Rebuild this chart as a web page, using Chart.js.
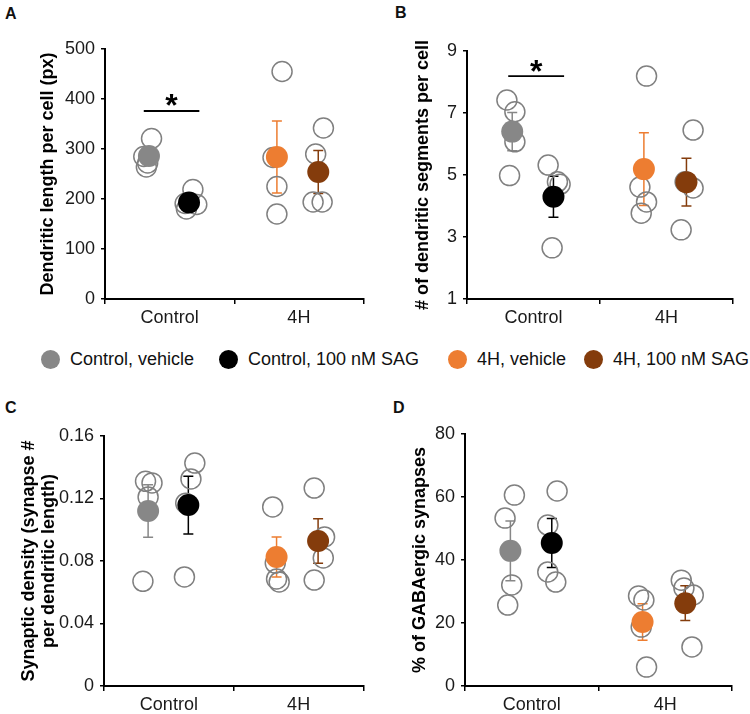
<!DOCTYPE html>
<html>
<head>
<meta charset="utf-8">
<script src="https://cdn.jsdelivr.net/npm/chart.js@4.4.0/dist/chart.umd.min.js"></script>
<style>
  body { margin: 0; background: #fff; }
  #fig { position: relative; width: 750px; height: 714px; font-family: Arial, "Liberation Sans", sans-serif; color: #111; }
  canvas { position: absolute; }
  .tag { position: absolute; font-weight: bold; font-size: 16px; line-height: 1; }
  .dot { position: absolute; width: 19px; height: 19px; border-radius: 50%; }
  .key { position: absolute; font-size: 18px; line-height: 18px; white-space: nowrap; }
</style>
</head>
<body>
<div id="fig">
  <div class="tag" style="left:5px;top:6px">A</div>
  <div class="tag" style="left:395px;top:5px">B</div>
  <div class="tag" style="left:5px;top:400px">C</div>
  <div class="tag" style="left:393px;top:400px">D</div>
  <canvas id="chartA" width="375" height="330" style="left:0;top:0"></canvas>
  <canvas id="chartB" width="375" height="330" style="left:375px;top:0"></canvas>
  <canvas id="chartC" width="375" height="344" style="left:0;top:370px"></canvas>
  <canvas id="chartD" width="375" height="344" style="left:375px;top:370px"></canvas>
</div>
<script>
const categories = ['Control', '4H'];
const groups = ['Control, vehicle', 'Control, 100 nM SAG', '4H, vehicle', '4H, 100 nM SAG'];

// A - dendritic length per cell (px)
const lengthCells = [[321, 285, 272, 264], [219, 191, 180, 189], [455, 283, 225, 170], [342, 290, 194, 194]];
const lengthJitter = [[-0.14, -0.2, -0.17, -0.18], [0.18, 0.12, 0.13, 0.21], [-0.13, -0.2, -0.17, -0.17], [0.19, 0.13, 0.11, 0.18]];
const lengthMean = [286, 193, 284, 254];
const lengthSem = [12, 9, 72, 43];
const lengthTicks = [0, 100, 200, 300, 400, 500];

// B - dendritic segments per cell
const segCells = [[7.42, 7.04, 6.07, 4.98], [5.32, 4.78, 4.70, 2.65], [8.19, 4.61, 4.13, 3.77], [6.45, 4.78, 4.58, 3.23]];
const segJitter = [[-0.2, -0.14, -0.14, -0.18], [0.11, 0.18, 0.2, 0.14], [-0.15, -0.2, -0.15, -0.19], [0.2, 0.14, 0.2, 0.11]];
const segMean = [6.40, 4.30, 5.19, 4.77];
const segSem = [0.62, 0.66, 1.17, 0.77];
const segTicks = [1, 3, 5, 7, 9];

// C - synaptic density
const densCells = [[0.131, 0.130, 0.121, 0.067], [0.1427, 0.1325, 0.117, 0.0698], [0.1146, 0.0787, 0.0685, 0.0666], [0.1267, 0.0954, 0.082, 0.0678]];
const densJitter = [[-0.18, -0.13, -0.16, -0.2], [0.2, 0.17, 0.13, 0.12], [-0.2, -0.18, -0.17, -0.15], [0.12, 0.2, 0.19, 0.12]];
const densMean = [0.112, 0.1158, 0.0826, 0.0928];
const densSem = [0.0168, 0.0185, 0.0128, 0.0142];
const densTicks = [0, 0.04, 0.08, 0.12, 0.16];

// D - % GABAergic synapses
const gabaCells = [[60.6, 53.3, 32.1, 25.7], [61.9, 51.1, 36.2, 33.0], [28.6, 27.3, 18.7, 6.0], [33.6, 31.1, 28.9, 12.4]];
const gabaJitter = [[-0.13, -0.2, -0.15, -0.18], [0.19, 0.12, 0.12, 0.18], [-0.2, -0.16, -0.18, -0.14], [0.12, 0.14, 0.21, 0.2]];
const gabaMean = [42.9, 45.4, 20.3, 26.3];
const gabaSem = [9.5, 7.8, 5.8, 5.5];
const gabaTicks = [0, 20, 40, 60, 80];

const colors = ['#878787', '#000000', '#ED7D31', '#843C0C'];
const meanShift = [-0.16, 0.15, -0.17, 0.15];

Chart.defaults.font.family = 'Arial, "Liberation Sans", sans-serif';
Chart.defaults.color = '#1a1a1a';

// legend row
const fig = document.getElementById('fig');
const keyX = [50, 228, 457, 593];
groups.forEach((g, i) => {
  const d = document.createElement('div');
  d.className = 'dot';
  d.style.left = (keyX[i] - 9.5) + 'px';
  d.style.top = '349.5px';
  d.style.background = colors[i];
  fig.appendChild(d);
  const t = document.createElement('div');
  t.className = 'key';
  t.textContent = g;
  t.style.left = (keyX[i] + 20) + 'px';
  t.style.top = '350px';
  fig.appendChild(t);
});

const errorBars = {
  id: 'errorBars',
  beforeDatasetsDraw(chart) {
    const ds = chart.data.datasets[0];
    const meta = chart.getDatasetMeta(0);
    const ys = chart.scales.y, ctx = chart.ctx;
    meta.data.forEach((pt, i) => {
      const m = ds.data[i].y, e = ds.sem[i];
      const top = ys.getPixelForValue(m + e), bot = ys.getPixelForValue(m - e);
      ctx.save();
      ctx.strokeStyle = colors[i];
      ctx.lineWidth = 1.5;
      ctx.beginPath();
      ctx.moveTo(pt.x, top); ctx.lineTo(pt.x, bot);
      ctx.moveTo(pt.x - 5, top); ctx.lineTo(pt.x + 5, top);
      ctx.moveTo(pt.x - 5, bot); ctx.lineTo(pt.x + 5, bot);
      ctx.stroke();
      ctx.restore();
    });
  }
};

const sigBar = {
  id: 'sigBar',
  afterDraw(chart, args, opts) {
    if (opts.y === undefined) return;
    const xs = chart.scales.x, ys = chart.scales.y, ctx = chart.ctx;
    const x1 = xs.getPixelForValue(opts.from), x2 = xs.getPixelForValue(opts.to);
    const y = ys.getPixelForValue(opts.y);
    ctx.save();
    ctx.strokeStyle = '#000';
    ctx.lineWidth = 1.8;
    ctx.beginPath(); ctx.moveTo(x1, y); ctx.lineTo(x2, y); ctx.stroke();
    ctx.fillStyle = '#000';
    ctx.font = 'bold 32px Arial, "Liberation Sans", sans-serif';
    ctx.textAlign = 'center';
    ctx.textBaseline = 'alphabetic';
    ctx.fillText('*', (x1 + x2) / 2, y + 5.4);
    ctx.restore();
  }
};

function buildPanel(id, cfg) {
  const cells = [];
  cfg.cells.forEach((arr, g) => arr.forEach((v, k) => {
    cells.push({x: Math.floor(g / 2) + cfg.jitter[g][k], y: v});
  }));
  const means = cfg.mean.map((v, g) => ({x: Math.floor(g / 2) + meanShift[g], y: v}));
  return new Chart(document.getElementById(id), {
    type: 'scatter',
    data: {
      datasets: [
        { label: 'mean', data: means, sem: cfg.sem, pointRadius: 11, pointHoverRadius: 11,
          pointBackgroundColor: colors, pointBorderColor: colors, pointBorderWidth: 0 },
        { label: 'cells', data: cells, pointRadius: 10, pointHoverRadius: 10,
          pointBackgroundColor: 'rgba(0,0,0,0)', pointBorderColor: '#808080', pointBorderWidth: 1.5 }
      ]
    },
    options: {
      responsive: false,
      animation: false,
      devicePixelRatio: 1,
      events: [],
      layout: { padding: { left: cfg.pl, right: cfg.pr, top: cfg.pt, bottom: 0 } },
      plugins: {
        legend: { display: false },
        tooltip: { enabled: false },
        sigBar: cfg.sig || {}
      },
      scales: {
        x: {
          type: 'linear', min: -0.5, max: 1.5,
          afterBuildTicks: s => { s.ticks = [-0.5, 0, 0.5, 1, 1.5].map(v => ({value: v})); },
          afterFit: s => { s.height = cfg.xh; },
          ticks: {
            autoSkip: false, maxRotation: 0, padding: 3, color: '#1a1a1a', font: { size: 18 },
            callback: v => v === 0 ? categories[0] : (v === 1 ? categories[1] : '')
          },
          grid: {
            drawOnChartArea: false, tickLength: 5, lineWidth: 1.5,
            color: c => (c.tick && Number.isInteger(c.tick.value)) ? 'rgba(0,0,0,0)' : '#000'
          },
          border: { color: '#000', width: 2 }
        },
        y: {
          min: cfg.ticks[0], max: cfg.ticks[cfg.ticks.length - 1],
          afterBuildTicks: s => { s.ticks = cfg.ticks.map(v => ({value: v})); },
          afterFit: s => { s.width = cfg.yw; },
          ticks: { padding: 6, color: '#1a1a1a', font: { size: 18 }, callback: cfg.fmt || (v => String(v)) },
          grid: { drawOnChartArea: false, tickLength: 4, lineWidth: 1.5, color: '#000' },
          border: { color: '#000', width: 2 },
          title: {
            display: true, text: cfg.title, color: '#000', padding: 0,
            font: { size: 18, weight: 'bold', lineHeight: cfg.lh || 1.2 }
          }
        }
      }
    },
    plugins: [errorBars, sigBar]
  });
}

buildPanel('chartA', {
  cells: lengthCells, jitter: lengthJitter, mean: lengthMean, sem: lengthSem, ticks: lengthTicks,
  title: 'Dendritic length per cell (px)', pl: 37, yw: 68, pr: 7, pt: 49, xh: 31,
  sig: { from: -0.2, to: 0.23, y: 376 }
});
buildPanel('chartB', {
  cells: segCells, jitter: segJitter, mean: segMean, sem: segSem, ticks: segTicks,
  title: '# of dendritic segments per cell', pl: 37, yw: 55, pr: 17, pt: 51, xh: 31,
  sig: { from: -0.19, to: 0.23, y: 8.19 }
});
buildPanel('chartC', {
  cells: densCells, jitter: densJitter, mean: densMean, sem: densSem, ticks: densTicks,
  title: ['Synaptic density (synapse #', 'per dendritic length)'], lh: 1.111,
  fmt: v => v === 0 ? '0' : v.toFixed(2),
  pl: 19, yw: 85, pr: 7, pt: 66, xh: 28
});
buildPanel('chartD', {
  cells: gabaCells, jitter: gabaJitter, mean: gabaMean, sem: gabaSem, ticks: gabaTicks,
  title: '% of GABAergic synapses', pl: 34, yw: 56, pr: 18, pt: 64, xh: 28
});
</script>
</body>
</html>
